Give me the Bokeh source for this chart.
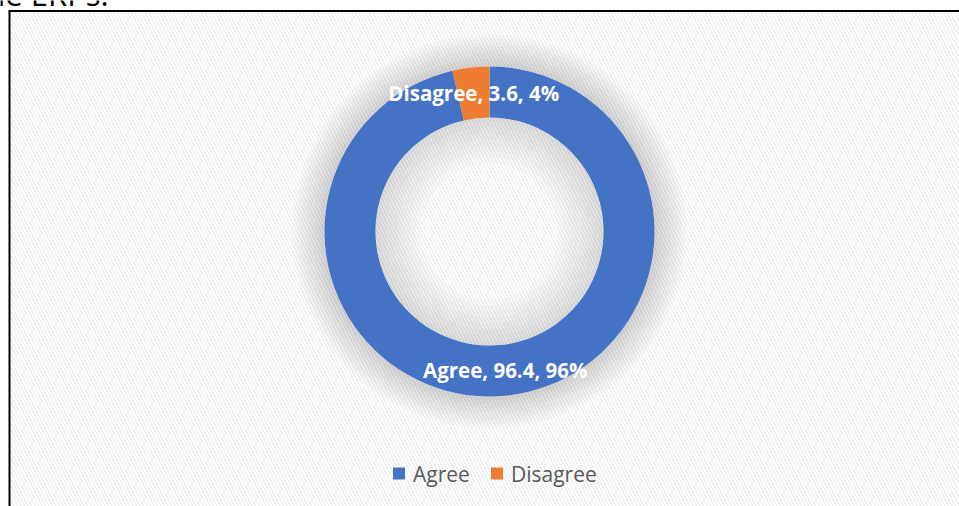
import math
from bokeh.plotting import figure
from bokeh.models import Range1d
from bokeh.core.properties import value
from bokeh.embed import file_html
from bokeh.resources import INLINE

# ---- data ----
categories = ["Agree", "Disagree"]
values = [96.4, 3.6]
colors = ["#4472C4", "#ED7D31"]
caption_fragment = "ie ERPs."

W, H = 959, 506
p = figure(width=W, height=H, output_backend="svg", toolbar_location=None,
           x_range=Range1d(0, W), y_range=Range1d(0, H), min_border=0,
           background_fill_color="white", border_fill_color="white",
           outline_line_color=None)
p.axis.visible = False
p.grid.visible = False

# patterned chart area background
p.quad(left=9, right=W, bottom=0, top=H - 10.5, fill_color="white", line_color=None,
       hatch_pattern="\\", hatch_color="#e6e6e6", hatch_scale=7, hatch_weight=1.2, hatch_alpha=0.8)

# border (left & top only visible)
p.segment(x0=[9, 8], y0=[0, H - 10.5], x1=[9, W], y1=[H - 10.5, H - 10.5],
          line_color="black", line_width=2)

# cut-off caption text above the chart (only its lower part is visible, as in the source)
p.text(x=[-3], y=[H - 14.5], text=[caption_fragment], text_color="black",
       text_font=value("Open Sans"), text_font_size="31px", text_align="left",
       text_baseline="bottom")

cx, cy = 489, 275
r_out, r_in = 165, 114

# soft glow
for k in range(8):
    p.annulus(x=cx, y=cy, inner_radius=r_out, outer_radius=r_out + 4 + k * 4,
              fill_color="black", fill_alpha=0.018, line_color=None)
    p.annulus(x=cx, y=cy, inner_radius=max(r_in - 4 - k * 6, 0), outer_radius=r_in,
              fill_color="black", fill_alpha=0.016, line_color=None)

total = sum(values)
starts, ends, cum = [], [], 0.0
for v in values:
    starts.append(math.pi / 2 - cum / total * 2 * math.pi)
    cum += v
    ends.append(math.pi / 2 - cum / total * 2 * math.pi)

p.annular_wedge(x=cx, y=cy, inner_radius=r_in, outer_radius=r_out,
                start_angle=starts, end_angle=ends, direction="clock",
                fill_color=colors, line_color=None)

# data labels
r_mid = (r_in + r_out) / 2
lx, ly, lt = [], [], []
for c, v, s, e in zip(categories, values, starts, ends):
    m = (s + e) / 2
    lx.append(cx + r_mid * math.cos(m))
    ly.append(cy + r_mid * math.sin(m))
    lt.append(f"{c}, {v}, {round(v / total * 100)}%")
p.text(x=lx, y=ly, text=lt, text_color="white", text_font=value("Open Sans"),
       text_font_style="bold", text_font_size="20.5px", text_align="center", text_baseline="middle")

# legend
leg_sq_x = [398.5, 496.5]
leg_y = 33
p.scatter(x=leg_sq_x, y=[leg_y] * 2, marker="square", size=12, fill_color=colors, line_color=None)
p.text(x=[x + 14 for x in leg_sq_x], y=[leg_y] * 2, text=categories, text_color="#595959",
       text_font=value("Open Sans"), text_font_size="21px", text_align="left", text_baseline="middle")

open("out.html", "w").write(file_html(p, INLINE))
